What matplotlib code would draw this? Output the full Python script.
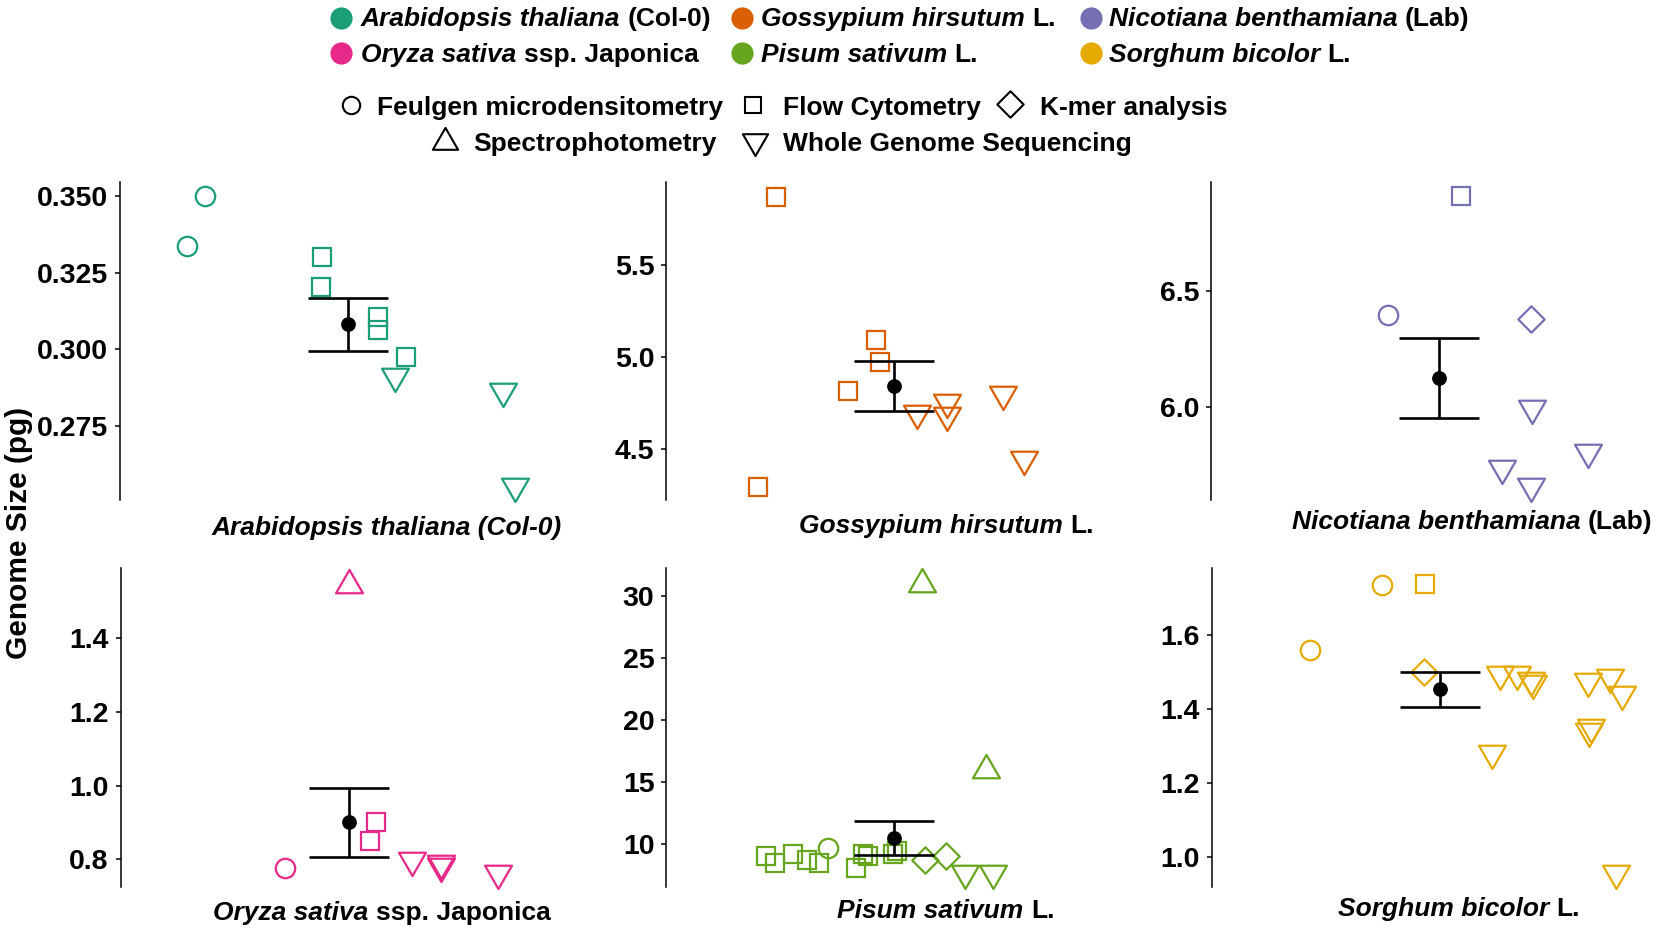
import matplotlib
matplotlib.use("Agg")
import matplotlib.pyplot as plt
from matplotlib.path import Path
import numpy as np

plt.rcParams['font.family'] = ['Liberation Sans', 'DejaVu Sans']

# ---------------- data ----------------
methods = ["Feulgen microdensitometry", "Flow Cytometry", "K-mer analysis",
           "Spectrophotometry", "Whole Genome Sequencing"]
method_codes = ["FM", "FC", "KM", "SP", "WGS"]

species_italic = ["Arabidopsis thaliana", "Gossypium hirsutum", "Nicotiana benthamiana",
                  "Oryza sativa", "Pisum sativum", "Sorghum bicolor"]
species_suffix = ["(Col-0)", "L.", "(Lab)", "ssp. Japonica", "L.", "L."]
species_colors = ["#1B9E77", "#D95F02", "#7570B3", "#E7298A", "#66A61E", "#E6AB02"]

# x = position along the hidden x axis, y = genome size (pg)
ara_m = ["FM", "FM", "FC", "FC", "FC", "FC", "FC", "WGS", "WGS", "WGS"]
ara_x = [85, 67, 202, 201, 258, 258, 286, 275, 383, 395]
ara_y = [0.3500, 0.3338, 0.3302, 0.3204, 0.3105, 0.3065, 0.2974, 0.2912, 0.2865, 0.2554]

gos_m = ["FC"] * 5 + ["WGS"] * 5
gos_x = [110, 92, 210, 214, 182, 251, 281, 281, 337, 358]
gos_y = [5.871, 4.295, 5.091, 4.973, 4.814, 4.695, 4.758, 4.685, 4.798, 4.447]

nic_m = ["FC", "FM", "KM", "WGS", "WGS", "WGS", "WGS"]
nic_x = [250, 177, 320, 321, 291, 320, 377]
nic_y = [6.909, 6.397, 6.378, 5.996, 5.737, 5.658, 5.806]

ory_m = ["SP", "FM", "FC", "FC", "WGS", "WGS", "WGS", "WGS"]
ory_x = [228, 164, 255, 249, 291, 320, 320, 377]
ory_y = [1.545, 0.776, 0.902, 0.851, 0.799, 0.790, 0.781, 0.763]

pis_m = ["SP", "SP"] + ["FC"] * 10 + ["FM", "KM", "KM", "WGS", "WGS"]
pis_x = [256, 320, 100, 109, 127, 141, 153, 190, 197, 202, 227, 231, 162, 259, 280, 299, 327]
pis_y = [30.98, 15.96, 9.03, 8.52, 9.22, 8.71, 8.52, 8.09, 9.22, 9.06, 9.22, 9.48,
         9.73, 8.74, 9.06, 7.69, 7.69]

sor_m = ["FM", "FC", "FM", "KM"] + ["WGS"] * 11
sor_x = [170, 213, 98, 212, 288, 305, 319, 321, 280, 376, 398, 410, 379, 377, 404]
sor_y = [1.735, 1.737, 1.560, 1.501, 1.495, 1.495, 1.479, 1.470, 1.282, 1.475, 1.486,
         1.441, 1.351, 1.340, 0.958]

mean_pos = 228  # x position of the mean +/- SE marker

y_limits = [(0.2509, 0.3547), (4.225, 5.952), (5.599, 6.971),
            (0.7256, 1.590), (6.59, 32.23), (0.9206, 1.780)]
y_ticks = [[0.275, 0.300, 0.325, 0.350], [4.5, 5.0, 5.5], [6.0, 6.5],
           [0.8, 1.0, 1.2, 1.4], [10, 15, 20, 25, 30], [1.0, 1.2, 1.4, 1.6]]
y_ticklabels = [["0.275", "0.300", "0.325", "0.350"], ["4.5", "5.0", "5.5"], ["6.0", "6.5"],
                ["0.8", "1.0", "1.2", "1.4"], ["10", "15", "20", "25", "30"],
                ["1.0", "1.2", "1.4", "1.6"]]
x_label_parts = [[("Arabidopsis thaliana (Col-0)", "italic")],
                 [("Gossypium hirsutum", "italic"), ("L.", "normal")],
                 [("Nicotiana benthamiana", "italic"), ("(Lab)", "normal")],
                 [("Oryza sativa", "italic"), ("ssp. Japonica", "normal")],
                 [("Pisum sativum", "italic"), ("L.", "normal")],
                 [("Sorghum bicolor", "italic"), ("L.", "normal")]]

data = [(ara_m, ara_x, ara_y), (gos_m, gos_x, gos_y), (nic_m, nic_x, nic_y),
        (ory_m, ory_x, ory_y), (pis_m, pis_x, pis_y), (sor_m, sor_x, sor_y)]

# ---------------- styling / layout ----------------
W, H = 1660, 931
DPI = 100
fig = plt.figure(figsize=(W / DPI, H / DPI), dpi=DPI)
fig.patch.set_facecolor("white")

tri_down = Path([(-0.866, 0.5), (0.866, 0.5), (0, -1.0), (-0.866, 0.5)],
                [Path.MOVETO, Path.LINETO, Path.LINETO, Path.CLOSEPOLY])
tri_up = Path([(-0.866, -0.5), (0.866, -0.5), (0, 1.0), (-0.866, -0.5)],
              [Path.MOVETO, Path.LINETO, Path.LINETO, Path.CLOSEPOLY])
diamond = Path([(0, 1), (1, 0), (0, -1), (-1, 0), (0, 1)],
               [Path.MOVETO, Path.LINETO, Path.LINETO, Path.LINETO, Path.CLOSEPOLY])

marker_of = {"FM": ("o", 14), "FC": ("s", 13), "KM": (diamond, 19),
             "SP": (tri_up, 22.4), "WGS": (tri_down, 22.4)}
legend_marker = {"FM": ("o", 12.5), "FC": ("s", 12), "KM": (diamond, 19),
                 "SP": (tri_up, 21), "WGS": (tri_down, 21)}

# panel geometry in pixels: axis x, top, bottom
panels = [(120, 181.7, 500), (666.4, 181.7, 500), (1211, 181.7, 500),
          (120.5, 568.3, 886.7), (666.4, 568.3, 886.7), (1211.7, 568.3, 886.7)]
PW = 440
label_pos = [(386.7, 534.5), (946.6, 533), (1472, 529),
             (382, 920), (946, 918), (1459, 916)]

FS = 19

# overlay axes in pixel coordinates
ax0 = fig.add_axes([0, 0, 1, 1])
ax0.set_xlim(0, W)
ax0.set_ylim(H, 0)
ax0.axis("off")

renderer = fig.canvas.get_renderer()


def mixed_text(x, y, parts, size, ha="left"):
    arts, widths = [], []
    for s, st in parts:
        t = ax0.text(0, y, s, fontsize=size, fontstyle=st, fontweight="bold",
                     va="baseline", ha="left", color="black")
        bb = t.get_window_extent(renderer=renderer)
        arts.append(t)
        widths.append(bb.width)
    gap = 0.278 * size * DPI / 72
    total = sum(widths) + gap * (len(parts) - 1)
    x0 = x - total / 2 if ha == "center" else x
    for t, w in zip(arts, widths):
        t.set_x(x0)
        x0 += w + gap


for i, ((m, xs, ys), (lx, top, bot)) in enumerate(zip(data, panels)):
    ax = fig.add_axes([lx / W, 1 - bot / H, PW / W, (bot - top) / H])
    ax.patch.set_alpha(0)
    col = species_colors[i]
    for code in method_codes:
        idx = [k for k, mm in enumerate(m) if mm == code]
        if not idx:
            continue
        mk, ms = marker_of[code]
        ax.plot([xs[k] for k in idx], [ys[k] for k in idx], linestyle="none",
                marker=mk, markersize=ms, markerfacecolor="none",
                markeredgecolor=col, markeredgewidth=1.6, clip_on=False, zorder=3)
    yv = np.array(ys)
    mean = yv.mean()
    se = yv.std(ddof=1) / np.sqrt(len(yv))
    ax.errorbar([mean_pos], [mean], yerr=[se], fmt="o", color="black", ms=9.6,
                elinewidth=1.9, capsize=28.5, capthick=1.9, zorder=5, clip_on=False)
    ax.set_xlim(0, PW)
    ax.set_ylim(*y_limits[i])
    ax.set_yticks(y_ticks[i])
    ax.set_yticklabels(y_ticklabels[i], fontsize=20.5, fontweight="bold")
    ax.set_xticks([])
    for s in ["top", "right", "bottom"]:
        ax.spines[s].set_visible(False)
    ax.spines["left"].set_linewidth(1.1)
    ax.spines["left"].set_color("black")
    ax.tick_params(axis="y", length=3.6, width=1.1, pad=5, colors="black")
    mixed_text(label_pos[i][0], label_pos[i][1], x_label_parts[i], FS, ha="center")

# y axis title
ax0.text(19, 533, "Genome Size (pg)", rotation=90, ha="center", va="center",
         fontsize=21.5, fontweight="bold", color="black")

# species legend
col_marker_x = [341, 742, 1090.8]
col_text_x = [361, 761, 1109]
row_marker_y = [18, 52.5]
row_base_y = [26, 62]
for i in range(6):
    r, c = divmod(i, 3)
    ax0.plot([col_marker_x[c]], [row_marker_y[r]], marker="o", markersize=16,
             color=species_colors[i], markeredgewidth=0, linestyle="none")
    mixed_text(col_text_x[c], row_base_y[r],
               [(species_italic[i], "italic"), (species_suffix[i], "normal")], FS)

# method legend
meth_marker_pos = [(350.7, 105), (753.3, 105), (1010, 104), (445, 142), (755, 141)]
meth_text_pos = [(376.7, 115.5), (783.3, 115.5), (1040, 115.5), (473.3, 151.5), (783.3, 151.5)]
for code, name, (mx, my), (tx, ty) in zip(method_codes, methods, meth_marker_pos, meth_text_pos):
    mk, ms = legend_marker[code]
    ax0.plot([mx], [my], marker=mk, markersize=ms, markerfacecolor="none",
             markeredgecolor="black", markeredgewidth=1.5, linestyle="none")
    ax0.text(tx, ty, name, fontsize=FS, fontweight="bold", va="baseline", ha="left",
             color="black")

fig.savefig("out.png", dpi=DPI, facecolor="white")
